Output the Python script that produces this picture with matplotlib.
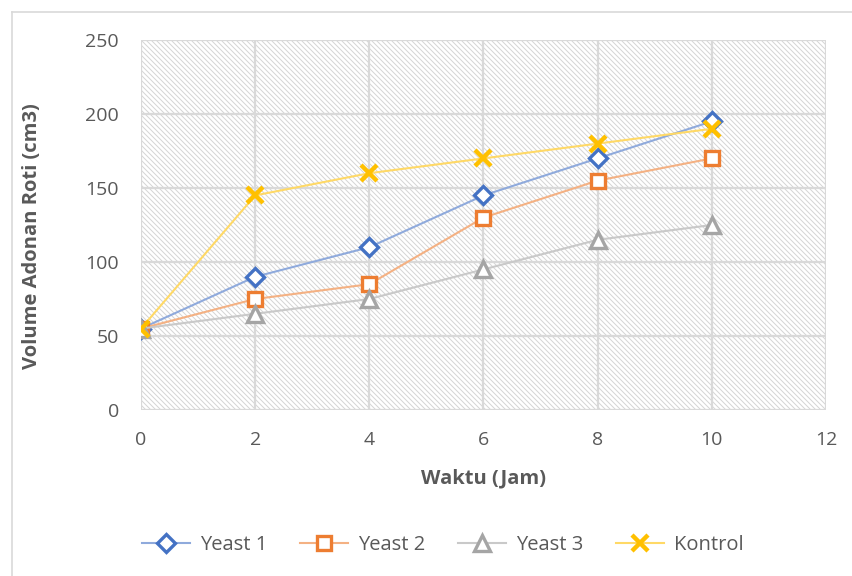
import matplotlib
matplotlib.use("Agg")
import matplotlib.pyplot as plt
from matplotlib.collections import LineCollection
from matplotlib.lines import Line2D
import numpy as np

waktu = [0, 2, 4, 6, 8, 10]
yeast1 = [55, 90, 110, 145, 170, 195]
yeast2 = [55, 75, 85, 130, 155, 170]
yeast3 = [55, 65, 75, 95, 115, 125]
kontrol = [55, 145, 160, 170, 180, 190]
series_names = ["Yeast 1", "Yeast 2", "Yeast 3", "Kontrol"]
x_ticks = [0, 2, 4, 6, 8, 10, 12]
y_ticks = [0, 50, 100, 150, 200, 250]

plt.rcParams['font.family'] = ['Open Sans', 'DejaVu Sans']

fig = plt.figure(figsize=(8.53, 5.76), dpi=100)
# outer chart border (left and top)
fig.add_artist(Line2D([12/853, 12/853], [0, 1 - 12/576], color='#d9d9d9', lw=1.2, transform=fig.transFigure))
fig.add_artist(Line2D([12/853, 1], [1 - 12/576, 1 - 12/576], color='#d9d9d9', lw=1.2, transform=fig.transFigure))

AX_W, AX_H = 826 - 141, 410 - 40
ax = fig.add_axes([141/853, 1 - 410/576, AX_W/853, AX_H/576])
ax.set_xlim(0, 12)
ax.set_ylim(0, 250)

# diagonal hatch background of plot area (top-left to bottom-right)
step = 5.0
segs = []
for xs in np.arange(-AX_H, AX_W + step, step):
    segs.append([(xs / AX_W, 1.0), ((xs + AX_H) / AX_W, 0.0)])
hatch = LineCollection(segs, colors='#d4d4d4', linewidths=0.7, transform=ax.transAxes, zorder=0)
ax.add_collection(hatch, autolim=False)
hatch.set_clip_path(ax.patch)

ax.set_xticks(x_ticks)
ax.set_yticks(y_ticks)
ax.grid(True, color='#d9d9d9', lw=1.6, zorder=1)
ax.set_axisbelow(True)
for s in ax.spines.values():
    s.set_visible(False)
ax.tick_params(axis='y', length=0, labelsize=14, labelcolor='#595959', pad=16)
ax.tick_params(axis='x', length=0, labelsize=14, labelcolor='#595959', pad=15)

styles = [
    (yeast1, '#8faadc', '#4472C4', 'D', 9),
    (yeast2, '#f4b183', '#ED7D31', 's', 10.5),
    (yeast3, '#c9c9c9', '#A5A5A5', '^', 11),
    (kontrol, '#ffd966', '#FFC000', 'x', 11),
]
for name, (vals, lc, mc, mk, ms) in zip(series_names, styles):
    if mk == 'x':
        ax.plot(waktu, vals, color=lc, lw=1.5, marker=mk, ms=ms, mec=mc, mew=3.2,
                label=name, zorder=3)
    else:
        ax.plot(waktu, vals, color=lc, lw=1.5, marker=mk, ms=ms, mec=mc, mfc='white',
                mew=2.4, label=name, zorder=3)

ax.set_xlabel("Waktu (Jam)", fontsize=14.5, fontweight='bold', color='#595959')
ax.set_ylabel("Volume Adonan Roti (cm3)", fontsize=14.5, fontweight='bold', color='#595959')
ax.xaxis.set_label_coords(0.5, (410 - 478) / 370)
ax.yaxis.set_label_coords((32 - 141) / 685, (410 - 236) / 370)
ax.xaxis.label.set_va('center')
ax.yaxis.label.set_va('center')

leg = fig.legend(loc='center', bbox_to_anchor=(443/853, 1 - 545/576), ncol=4, frameon=False,
                 fontsize=14.5, handlelength=2.4, columnspacing=1.6, handletextpad=0.5)
for t in leg.get_texts():
    t.set_color('#595959')

fig.savefig("out.png", dpi=100)
